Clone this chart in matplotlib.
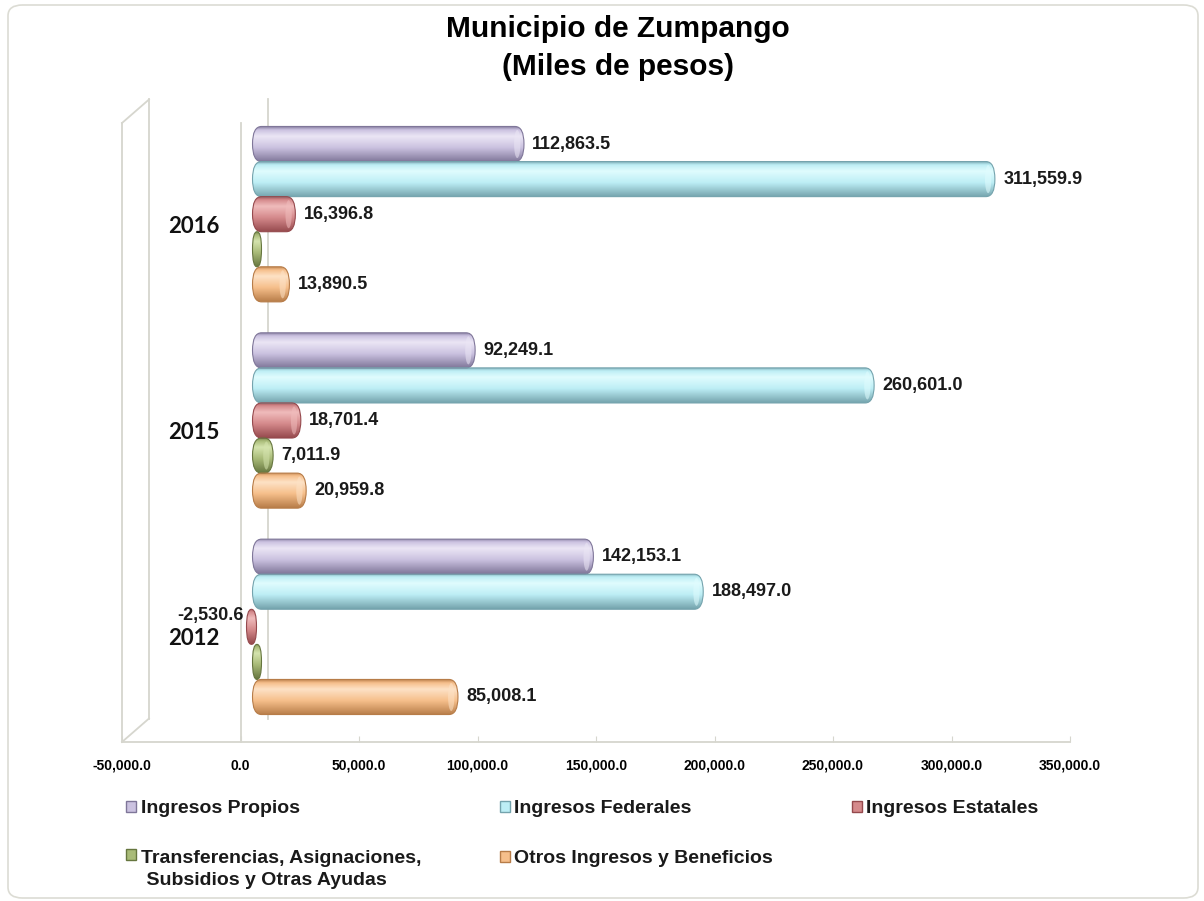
import numpy as np
import matplotlib
matplotlib.use("Agg")
import matplotlib.pyplot as plt
from matplotlib import transforms
from matplotlib.patches import FancyBboxPatch, BoxStyle, Ellipse, Patch, Rectangle
from matplotlib.colors import LinearSegmentedColormap
from matplotlib.legend_handler import HandlerPatch

plt.rcParams['font.family'] = ['Liberation Sans', 'DejaVu Sans']

years = ["2012", "2015", "2016"]
series = ["Ingresos Propios", "Ingresos Federales", "Ingresos Estatales",
          "Transferencias, Asignaciones,\n Subsidios y Otras Ayudas",
          "Otros Ingresos y Beneficios"]
propios = [142153.1, 92249.1, 112863.5]
federales = [188497.0, 260601.0, 311559.9]
estatales = [-2530.6, 18701.4, 16396.8]
transferencias = [0.0, 7011.9, 0.0]
otros = [85008.1, 20959.8, 13890.5]
xticks = np.arange(-50000, 350001, 50000)

# dark, base, light for each serie
shades = [("#7f7699", "#cbc2e0", "#ebe6f5"),
          ("#74a3ad", "#bdeef5", "#e0fcfe"),
          ("#95494d", "#d58a8c", "#f0bcbc"),
          ("#66763f", "#a9bb78", "#d5e4ae"),
          ("#b77c48", "#f6bf8b", "#fde2c6")]

W, H = 1204, 901
fig = plt.figure(figsize=(12.04, 9.01), dpi=100)
ax = fig.add_axes([122 / W, 1 - 742 / H, 948 / W, 619 / H])
ax.set_xlim(-50000, 350000)
ax.set_ylim(-0.5, 2.5)
xpp = 400000 / 948  # data units per pixel

depth = transforms.ScaledTranslation(0.12, 0.12, fig.dpi_scale_trans)
tr = ax.transData + depth

bh = 0.17
grad = np.linspace(0, 1, 128).reshape(-1, 1)
all_vals = [propios, federales, estatales, transferencias, otros]
for i, vals in enumerate(all_vals):
    dark, base, light = shades[i]
    cmap = LinearSegmentedColormap.from_list(
        "c%d" % i, [(0, dark), (0.4, base), (0.72, light), (0.9, base), (1.0, dark)])
    pos = np.arange(len(years)) + (2 - i) * bh
    bars = ax.barh(pos, vals, height=bh, transform=tr)
    for rect, v in zip(bars, vals):
        rect.set_visible(False)
        x0, w = rect.get_x(), rect.get_width()
        lo, hi = min(x0, x0 + w), max(x0, x0 + w)
        yb, h = rect.get_y(), rect.get_height()
        left = lo
        right = max(hi + 4 * xpp, lo + 9 * xpp)
        rx = min(9 * xpp, (right - left) / 2)
        ry = h / 2
        cap = FancyBboxPatch((left, yb), right - left, h,
                             boxstyle=BoxStyle("Round", pad=0, rounding_size=rx),
                             mutation_aspect=ry / rx, transform=tr,
                             fc="none", ec=dark, lw=0.8, zorder=4)
        ax.add_patch(cap)
        im = ax.imshow(grad, cmap=cmap, extent=(left, right, yb, yb + h),
                       origin="lower", aspect="auto", transform=tr,
                       interpolation="bicubic", zorder=3)
        im.set_clip_path(cap)
        if right - left > 20 * xpp:
            ax.add_patch(Ellipse((right - rx * 0.75, yb + h / 2), rx * 0.7, h * 0.8,
                                 fc=light, ec="none", alpha=0.55, transform=tr, zorder=3.5))
        if v > 0:
            ax.annotate(f"{v:,.1f}", xy=(right, yb + h / 2), xycoords=tr,
                        xytext=(6, 0), textcoords="offset points",
                        ha="left", va="center", fontsize=13, fontweight="bold",
                        color="#1a1a1a", zorder=5)
        elif v < 0:
            ax.annotate(f"{v:,.1f}", xy=(left, yb + h / 2), xycoords=tr,
                        xytext=(-2, 8), textcoords="offset points",
                        ha="right", va="center", fontsize=13, fontweight="bold",
                        color="#1a1a1a", zorder=5)

for k, yr in enumerate(years):
    ax.annotate(yr, xy=(0, k), xycoords="data", xytext=(-15, 0),
                textcoords="offset points", ha="right", va="center",
                fontsize=16, fontweight="bold", family=["Lato", "DejaVu Sans"],
                color="#111111")

# 3-D walls and zero line
grey = "#d6d6ce"
wall = transforms.ScaledTranslation(0.27, 0.235, fig.dpi_scale_trans)
ax.plot([0, 0], [0, 1], color=grey, lw=1.3, transform=ax.transAxes, clip_on=False)
ax.plot([0, 0], [0, 1], color=grey, lw=1.3, transform=ax.transAxes + wall, clip_on=False)
xa = transforms.blended_transform_factory(ax.transData, ax.transAxes)
ax.plot([0, 0], [0, 1], color=grey, lw=1.3, transform=xa, clip_on=False, zorder=1)
ax.plot([0, 0], [0, 1], color=grey, lw=1.3, transform=xa + wall, clip_on=False, zorder=1)
for yy in (0, 1):
    p0 = ax.transAxes.transform((0, yy))
    p1 = (ax.transAxes + wall).transform((0, yy))
    inv = fig.transFigure.inverted()
    a, b = inv.transform(p0), inv.transform(p1)
    fig.add_artist(plt.Line2D([a[0], b[0]], [a[1], b[1]], color=grey, lw=1.3))

for s in ("top", "right", "left"):
    ax.spines[s].set_visible(False)
ax.spines["bottom"].set_color(grey)
ax.spines["bottom"].set_linewidth(1.3)
ax.set_yticks([])
ax.set_xticks(xticks)
ax.set_xticklabels([f"{t:,.1f}" for t in xticks])
ax.tick_params(axis="x", direction="in", length=4, color=grey, pad=12,
               labelsize=10)
for lab in ax.get_xticklabels():
    lab.set_fontweight("bold")
ax.set_xlim(-50000, 350000)
ax.set_ylim(-0.5, 2.5)

fig.text(618 / W, 1 - 48 / H, "Municipio de Zumpango\n(Miles de pesos)",
         ha="center", va="center", fontsize=21.5, fontweight="bold",
         linespacing=1.48)


def first_line_patch(legend, orig_handle, xdescent, ydescent, width, height, fontsize):
    shift = 0
    if "\n" in getattr(orig_handle, "_lbl", ""):
        shift = fontsize * 0.78
    return Rectangle((-xdescent, -ydescent + shift), width, height)


handles = []
for lbl, (dark, base, light) in zip(series, shades):
    p = Patch(facecolor=base, edgecolor=dark, lw=1.0)
    p._lbl = lbl
    handles.append(p)
order = [0, 3, 1, 4, 2]
leg = fig.legend([handles[j] for j in order], [series[j] for j in order],
                 ncol=3, loc="upper left",
                 bbox_to_anchor=(126 / W, 1 - 800 / H),
                 frameon=False, fontsize=14, handlelength=0.5, handleheight=0.5,
                 handletextpad=0.25, borderaxespad=0, borderpad=0,
                 labelspacing=1.7, columnspacing=4.05,
                 handler_map={Patch: HandlerPatch(patch_func=first_line_patch)})
for t in leg.get_texts():
    t.set_fontweight("bold")
    t.set_color("#1a1a1a")
    t.set_linespacing(1.4)

fig.add_artist(FancyBboxPatch((8 / W, 3 / H), 1190 / W, 893 / H,
                              boxstyle="round,pad=0,rounding_size=0.012",
                              transform=fig.transFigure, fc="none",
                              ec="#dcdcd4", lw=1.2))

fig.savefig("out.png", dpi=100)
